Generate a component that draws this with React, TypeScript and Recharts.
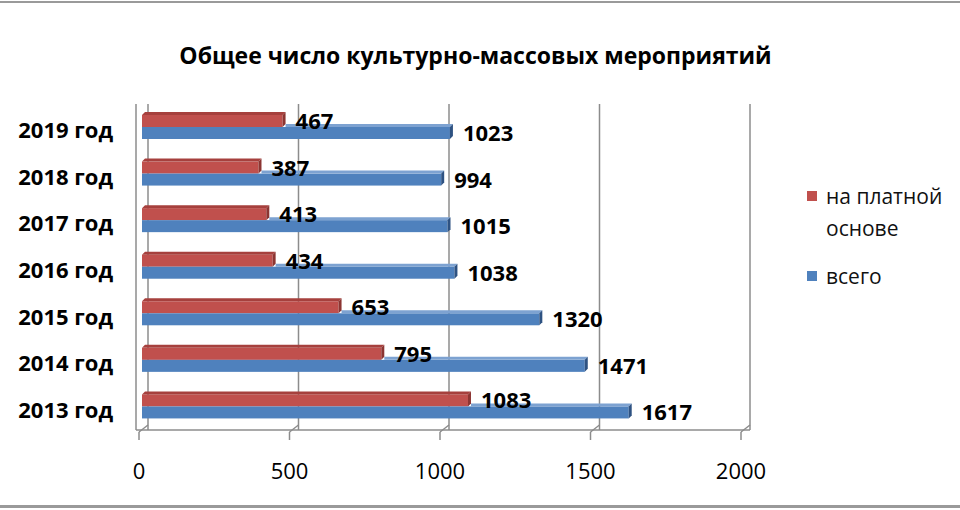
import React from "react";
import {
  BarChart,
  Bar,
  XAxis,
  YAxis,
  CartesianGrid,
  LabelList,
} from "recharts";

const years = ["2013 год", "2014 год", "2015 год", "2016 год", "2017 год", "2018 год", "2019 год"];
const paid = [1083, 795, 653, 434, 413, 387, 467];
const total = [1617, 1471, 1320, 1038, 1015, 994, 1023];
const ticks = [0, 500, 1000, 1500, 2000];

const data = years.map((year, i) => ({ year, paid: paid[i], total: total[i] }));

const font = "'Open Sans', 'Noto Sans', sans-serif";
const depth = 3;
const wallShift = 6;
const pad = 6;
const maxValue = 2000;

const colors = {
  paid: { front: "#C0504D", top: "#A6403D", side: "#8C3532" },
  total: { front: "#4F81BD", top: "#7DA2D1", side: "#2E5282" },
};

function Box3D(props: any) {
  const { x, y, width, height, fill, payload, dataKey } = props;
  if (!width || width <= 0) return null;
  const c = dataKey === "paid" ? colors.paid : colors.total;
  const d = depth;
  // the blue box's top face is hidden behind the red one where the red one exists
  let topStart = x;
  if (dataKey === "total" && payload) {
    const perUnit = width / payload.total;
    topStart = Math.min(x + payload.paid * perUnit + d, x + width);
  }
  return (
    <g>
      <rect x={x} y={y} width={width} height={height} fill={fill} />
      <polygon
        points={`${topStart},${y} ${topStart + (topStart === x ? d : 0)},${y - d} ${x + width + d},${y - d} ${x + width},${y}`}
        fill={c.top}
      />
      <polygon
        points={`${x + width},${y} ${x + width + d},${y - d} ${x + width + d},${y + height - d} ${x + width},${y + height}`}
        fill={c.side}
      />
    </g>
  );
}

function YearTick(props: any) {
  const { x, y, payload } = props;
  return (
    <text
      x={x}
      y={y}
      dy={2}
      textAnchor="end"
      dominantBaseline="central"
      fontFamily={font}
      fontWeight={700}
      fontSize={22}
      fill="#000"
    >
      {payload.value}
    </text>
  );
}

function FloorTick(props: any) {
  const { x, y, payload } = props;
  const fx = x - 3;
  return (
    <g>
      <line x1={fx} y1={y + 2} x2={fx} y2={y + 10} stroke="#8c8c8c" strokeWidth={1.5} />
      <line x1={fx} y1={y + 2} x2={fx + 9} y2={y - 5} stroke="#8c8c8c" strokeWidth={1.5} />
      <text
        x={fx}
        y={y + 40}
        textAnchor="middle"
        dominantBaseline="central"
        fontFamily={font}
        fontSize={22}
        fill="#000"
      >
        {payload.value}
      </text>
    </g>
  );
}

function ValueLabel(props: any) {
  const { x, y, width, height, value } = props;
  return (
    <text
      x={x + width + 13}
      y={y + height / 2 - 1}
      dominantBaseline="central"
      fontFamily={font}
      fontWeight={700}
      fontSize={22}
      fill="#000"
    >
      {value}
    </text>
  );
}

function LegendBox() {
  const item = (color: string, lines: string[]) => (
    <div style={{ display: "flex", alignItems: "flex-start", marginBottom: 16 }}>
      <div style={{ width: 10, height: 10, background: color, marginTop: 11, marginRight: 9 }} />
      <div style={{ lineHeight: "32px" }}>
        {lines.map((l) => (
          <div key={l}>{l}</div>
        ))}
      </div>
    </div>
  );
  return (
    <div
      style={{
        position: "absolute",
        left: 807,
        top: 180,
        fontFamily: font,
        fontSize: 21,
        color: "#111",
      }}
    >
      {item(colors.paid.front, ["на платной", "основе"])}
      {item(colors.total.front, ["всего"])}
    </div>
  );
}

// back-wall gridlines sit a few pixels right of the value positions
const wallLines = ({ xAxis, offset }: any) => {
  if (xAxis && typeof xAxis.scale === "function") {
    return ticks.map((t) => xAxis.scale(t) + wallShift);
  }
  const w = offset.width - 2 * pad;
  return ticks.map((t) => offset.left + pad + (t / maxValue) * w + wallShift);
};

export default function App() {
  return (
    <div style={{ position: "absolute", left: 0, top: 0, width: 960, height: 510, background: "#fff" }}>
      <div style={{ position: "absolute", left: 0, top: 1, width: 960, height: 2, background: "#9a9a9a" }} />
      <div style={{ position: "absolute", left: 0, top: 505, width: 960, height: 3, background: "#9a9a9a" }} />
      <div
        style={{
          position: "absolute",
          left: 0,
          top: 39,
          width: 951,
          textAlign: "center",
          fontFamily: font,
          fontWeight: 700,
          fontSize: 23,
          lineHeight: "32px",
        }}
      >
        Общее число культурно-массовых мероприятий
      </div>
      <LegendBox />
      <div style={{ position: "absolute", left: 0, top: 0 }}>
        <BarChart
          width={960}
          height={510}
          data={data}
          layout="vertical"
          margin={{ top: 104, right: 210, bottom: 40, left: 16 }}
          barGap={0}
          barSize={12}
        >
          <CartesianGrid
            horizontal={false}
            stroke="#8c8c8c"
            strokeWidth={1.5}
            verticalCoordinatesGenerator={wallLines}
          />
          <XAxis
            type="number"
            domain={[0, maxValue]}
            ticks={ticks}
            padding={{ left: pad, right: pad }}
            height={40}
            tickSize={0}
            tickMargin={0}
            tickLine={false}
            axisLine={{ stroke: "#8c8c8c", strokeWidth: 1.5 }}
            tick={(p: any) => <FloorTick {...p} />}
          />
          <YAxis
            type="category"
            dataKey="year"
            reversed
            width={120}
            tickSize={0}
            tickMargin={23}
            tickLine={false}
            axisLine={{ stroke: "#8c8c8c", strokeWidth: 1.5 }}
            tick={(p: any) => <YearTick {...p} />}
          />
          <Bar
            dataKey="paid"
            name="на платной основе"
            fill={colors.paid.front}
            shape={(p: any) => <Box3D {...p} dataKey="paid" />}
            isAnimationActive={false}
          >
            <LabelList dataKey="paid" content={(p: any) => <ValueLabel {...p} />} />
          </Bar>
          <Bar
            dataKey="total"
            name="всего"
            fill={colors.total.front}
            shape={(p: any) => <Box3D {...p} dataKey="total" />}
            isAnimationActive={false}
          >
            <LabelList dataKey="total" content={(p: any) => <ValueLabel {...p} />} />
          </Bar>
        </BarChart>
      </div>
    </div>
  );
}
